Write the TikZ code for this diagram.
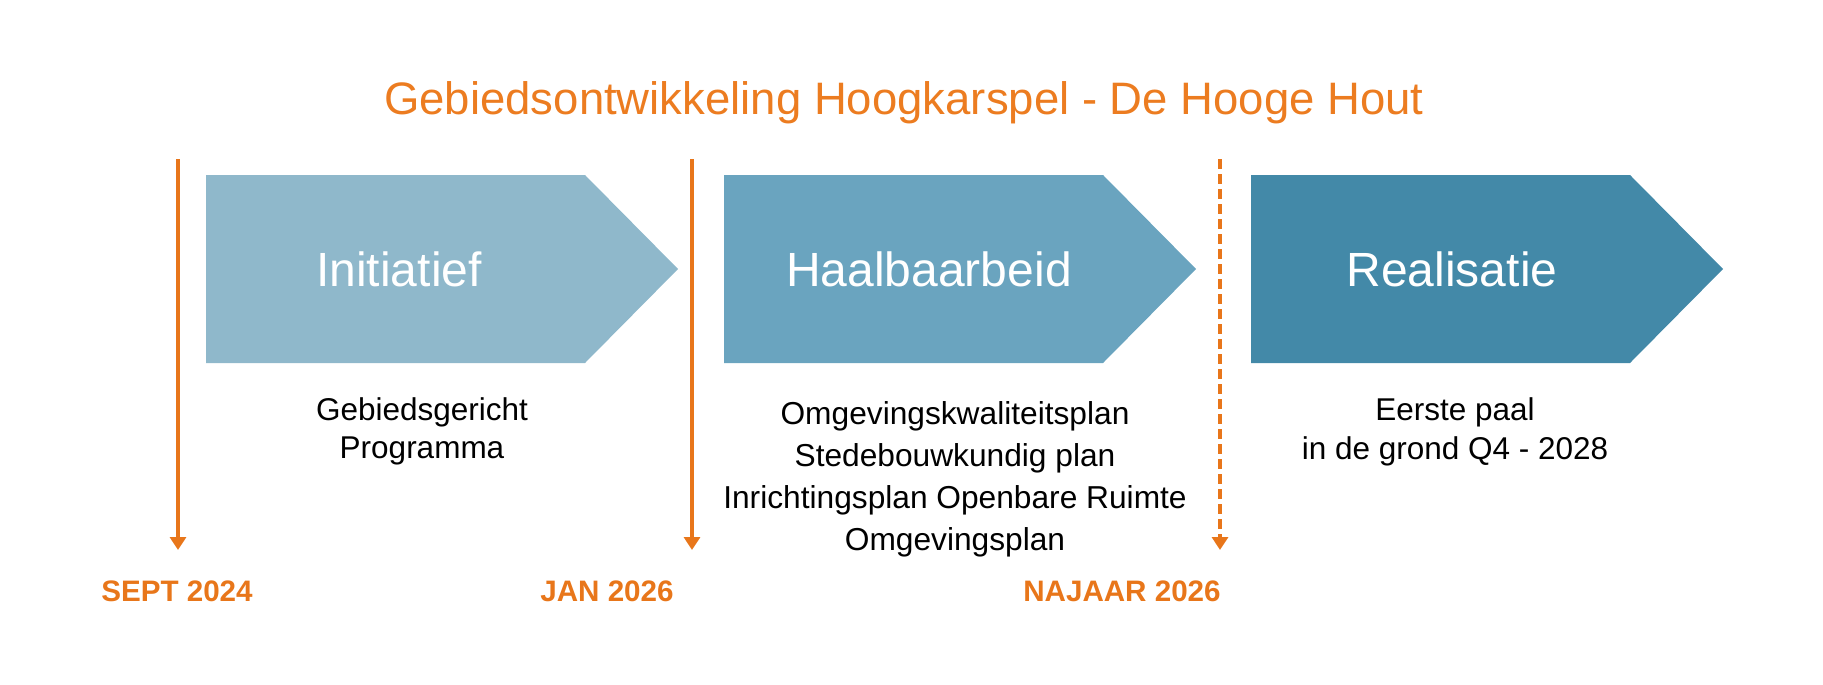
\documentclass[tikz,border=0pt]{standalone}
\usepackage{fontspec}
\setmainfont{Liberation Sans}
\usetikzlibrary{arrows.meta}
\definecolor{oranje}{RGB}{232,118,26}
\definecolor{titeloranje}{RGB}{236,124,32}
\definecolor{fase1}{RGB}{143,184,203}
\definecolor{fase2}{RGB}{106,164,191}
\definecolor{fase3}{RGB}{67,137,168}
\begin{document}
\begin{tikzpicture}[x=1pt,y=-1pt,
    mijlpaal/.style={draw=oranje,line width=4.5pt,-{Triangle[width=16pt,length=13pt]}},
    fasetekst/.style={white,inner sep=0pt,font=\fontsize{48}{56}\selectfont},
    onderschrift/.style={black,inner sep=0pt,anchor=north,align=center},
    datum/.style={oranje,inner sep=0pt,anchor=base,font=\fontsize{29.6}{34}\selectfont\bfseries}]
    \useasboundingbox (0,0) rectangle (1823,685);

    % titel
    \node[titeloranje,inner sep=0pt,anchor=base,font=\fontsize{45.5}{52}\selectfont] (titel) at (904,114) {Gebiedsontwikkeling Hoogkarspel - De Hooge Hout};

    % fasen
    \fill[fase1] (206,175) -- (585,175) -- (678,269) -- (585,363) -- (206,363) -- cycle;
    \fill[fase2] (724,175) -- (1103,175) -- (1196,269) -- (1103,363) -- (724,363) -- cycle;
    \fill[fase3] (1251,175) -- (1630,175) -- (1723,269) -- (1630,363) -- (1251,363) -- cycle;
    \node[fasetekst] (initiatief) at (399,269) {Initiatief};
    \node[fasetekst] (haalbaarheid) at (929,269) {Haalbaarbeid};
    \node[fasetekst] (realisatie) at (1452,269) {Realisatie};

    % mijlpalen
    \coordinate (top1) at (178,159);
    \coordinate (eind1) at (178,550);
    \coordinate (top2) at (692,159);
    \coordinate (eind2) at (692,550);
    \coordinate (top3) at (1220,159);
    \coordinate (eind3) at (1220,550);
    \draw[mijlpaal] (top1) -- (eind1);
    \draw[mijlpaal] (top2) -- (eind2);
    \draw[mijlpaal,dash pattern=on 10pt off 5pt] (top3) -- (eind3);

    % onderschriften
    \node[onderschrift,font=\fontsize{31.5}{38.5}\selectfont] (programma) at (422,397) {Gebiedsgericht\\Programma};
    \node[onderschrift,font=\fontsize{31.7}{42}\selectfont] (plannen) at (955,401) {Omgevingskwaliteitsplan\\Stedebouwkundig plan\\Inrichtingsplan Openbare Ruimte\\Omgevingsplan};
    \node[onderschrift,font=\fontsize{31.5}{39}\selectfont] (paal) at (1455,397) {Eerste paal\\in de grond Q4 - 2028};

    % data
    \node[datum] (sept) at (177,601) {SEPT 2024};
    \node[datum] (jan) at (607,601) {JAN 2026};
    \node[datum] (najaar) at (1122,601) {NAJAAR 2026};
\end{tikzpicture}
\end{document}
